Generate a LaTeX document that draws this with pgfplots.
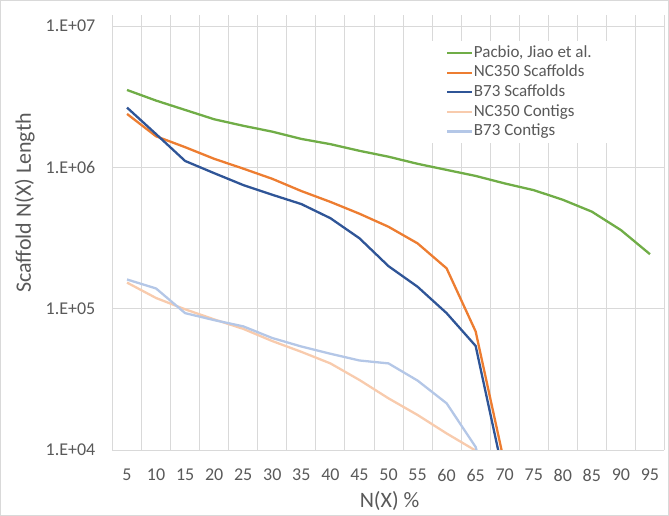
\documentclass[border=0pt]{standalone}
\usepackage{pgfplots}
\pgfplotsset{compat=1.18}
\usepackage{fontspec}
\setmainfont{Carlito}
\definecolor{txt}{HTML}{595959}
\definecolor{grd}{HTML}{D9D9D9}
\definecolor{cgreen}{HTML}{70AD47}
\definecolor{corange}{HTML}{ED7D31}
\definecolor{cdblue}{HTML}{2F5597}
\definecolor{cpeach}{HTML}{F8CBAD}
\definecolor{clblue}{HTML}{B4C7E7}
\begin{document}
\begin{tikzpicture}
\useasboundingbox (-112.5bp,-66bp) rectangle (556.5bp,450bp);
\draw[grd, line width=0.8bp] (-112bp,-65.5bp) rectangle (556bp,449.5bp);
\begin{axis}[
  at={(0,0)}, anchor=south west,
  scale only axis, width=552bp, height=435bp,
  xmin=2.5, xmax=97.5,
  ymode=log, ymin=1e4, ymax=1.198e7,
  xtick={5,10,...,95},
  minor xtick={2.5,7.5,...,97.5},
  xminorgrids=true, xmajorgrids=false,
  ytick={1e4,1e5,1e6,1e7},
  yticklabels={1.E+04,1.E+05,1.E+06,1.E+07},
  ymajorgrids=true,
  yminorgrids=false,
  minor ytick={},
  grid style={grd, line width=0.9bp},
  minor grid style={grd, line width=0.9bp},
  axis line style={draw=none},
  major tick length=0pt, minor tick length=0pt,
  /pgf/number format/assume math mode=true,
  tick label style={font=\fontsize{18bp}{21bp}\selectfont, text=txt},
  yticklabel style={anchor=east, inner sep=0pt, xshift=-17bp},
  xticklabel style={anchor=north, inner sep=0pt, yshift=-19bp},
  xlabel={N(X) \%},
  ylabel={Scaffold N(X) Length},
  every axis x label/.style={at={(axis description cs:0.502,0)}, anchor=center, yshift=-51bp, font=\fontsize{22bp}{25bp}\selectfont, text=txt},
  every axis y label/.style={at={(axis description cs:-0.1589,0.568)}, anchor=center, rotate=90, font=\fontsize{22bp}{25bp}\selectfont, text=txt},
  legend cell align=left,
  legend image code/.code={\draw[#1] (0bp,0bp) -- (25bp,0bp);},
  legend style={at={(axis description cs:0.576,0.940)}, anchor=north west, draw=none, fill=white,
    font=\fontsize{17bp}{20bp}\selectfont, text=txt, inner xsep=15.5bp, inner ysep=2bp, row sep=0bp,
    column sep=0bp,
    nodes={inner sep=0.5bp, text height=13.6bp, text depth=5bp, anchor=west}},
  every axis plot/.append style={line width=2.3bp, line join=round},
]
\addplot[cgreen] coordinates {
(5,3.53e6) (10,2.97e6) (15,2.55e6) (20,2.19e6) (25,1.97e6) (30,1.79e6) (35,1.59e6)
(40,1.46e6) (45,1.31e6) (50,1.19e6) (55,1.06e6) (60,9.6e5) (65,8.7e5) (70,7.7e5)
(75,6.9e5) (80,5.9e5) (85,4.86e5) (90,3.6e5) (95,2.43e5)};
\addlegendentry{Pacbio, Jiao et al.}
\addplot[corange] coordinates {
(5,2.39e6) (10,1.66e6) (15,1.39e6) (20,1.15e6) (25,9.8e5) (30,8.3e5) (35,6.8e5)
(40,5.7e5) (45,4.7e5) (50,3.8e5) (55,2.9e5) (60,1.93e5) (65,6.9e4) (70,7.9e3)};
\addlegendentry{NC350 Scaffolds}
\addplot[cdblue] coordinates {
(5,2.65e6) (10,1.72e6) (15,1.11e6) (20,9.1e5) (25,7.5e5) (30,6.4e5) (35,5.5e5)
(40,4.37e5) (45,3.15e5) (50,2.0e5) (55,1.43e5) (60,9.3e4) (65,5.45e4) (70,6.1e3)};
\addlegendentry{B73 Scaffolds}
\addplot[cpeach] coordinates {
(5,1.53e5) (10,1.19e5) (15,9.9e4) (20,8.4e4) (25,7.2e4) (30,5.9e4) (35,4.95e4)
(40,4.1e4) (45,3.13e4) (50,2.32e4) (55,1.77e4) (60,1.31e4) (65,9.9e3) (70,5e3)};
\addlegendentry{NC350 Contigs}
\addplot[clblue] coordinates {
(5,1.61e5) (10,1.39e5) (15,9.3e4) (20,8.3e4) (25,7.5e4) (30,6.2e4) (35,5.4e4)
(40,4.8e4) (45,4.3e4) (50,4.1e4) (55,3.1e4) (60,2.14e4) (65,1.05e4) (70,2e3)};
\addlegendentry{B73 Contigs}
\end{axis}
\end{tikzpicture}
\end{document}
